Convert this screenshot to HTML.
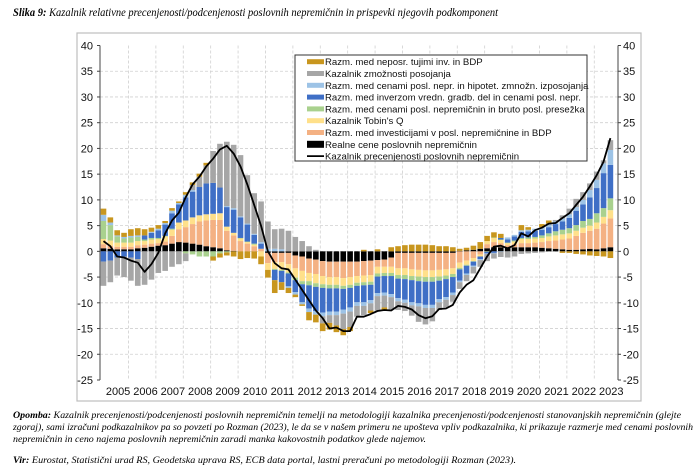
<!DOCTYPE html>
<html><head><meta charset="utf-8">
<style>
html,body{margin:0;padding:0;background:#fff;}
svg{display:block;}
text{font-family:"Liberation Sans",sans-serif;}
text.ser, .ser text{font-family:"Liberation Serif",serif;font-style:italic;}
</style></head>
<body>
<svg id="chart" width="698" height="470" viewBox="0 0 698 470" xmlns="http://www.w3.org/2000/svg">
<text class="ser" x="13" y="16" font-size="11.5" textLength="485" lengthAdjust="spacingAndGlyphs"><tspan font-weight="bold">Slika 9:</tspan> Kazalnik relativne precenjenosti/podcenjenosti poslovnih nepremičnin in prispevki njegovih podkomponent</text>
<rect x="77" y="33" width="564" height="368" fill="#fff" stroke="#bdbdbd" stroke-width="1.2"/>
<g id="grid"></g>
<g id="bars"></g>
<g id="line"></g>
<g id="axes"></g>
<g id="legend"></g>
<g font-size="9.3">
<text class="ser" x="13" y="418" textLength="668" lengthAdjust="spacingAndGlyphs"><tspan font-weight="bold">Opomba:</tspan> Kazalnik precenjenosti/podcenjenosti poslovnih nepremičnin temelji na metodologiji kazalnika precenjenosti/podcenjenosti stanovanjskih nepremičnin (glejte</text>
<text class="ser" x="13" y="430" textLength="680" lengthAdjust="spacingAndGlyphs">zgoraj), sami izračuni podkazalnikov pa so povzeti po Rozman (2023), le da se v našem primeru ne upošteva vpliv podkazalnika, ki prikazuje razmerje med cenami poslovnih</text>
<text class="ser" x="13" y="442" textLength="413" lengthAdjust="spacingAndGlyphs">nepremičnin in ceno najema poslovnih nepremičnin zaradi manka kakovostnih podatkov glede najemov.</text>
<text class="ser" x="13" y="463" textLength="503" lengthAdjust="spacingAndGlyphs"><tspan font-weight="bold">Vir:</tspan> Eurostat, Statistični urad RS, Geodetska uprava RS, ECB data portal, lastni preračuni po metodologiji Rozman (2023).</text>
</g>
</svg>
<script>
const years = [2005,2006,2007,2008,2009,2010,2011,2012,2013,2014,2015,2016,2017,2018,2019,2020,2021,2022,2023];
const yTicks = [40,35,30,25,20,15,10,5,0,-5,-10,-15,-20,-25];
const realneCene = [.6,.5,.4,.4,.4,.6,.7,.9,1.1,1.2,1.5,1.8,1.7,1.5,1.3,1.0,.8,.6,.2,.1,0,0,0,0,-.3,-.3,-.3,-.3,-.8,-1,-1.4,-1.6,-1.9,-2,-2,-2,-2,-2,-1.9,-1.8,-1.7,-1.6,-1.2,-.3,-.3,-.3,-.3,-.3,-.3,-.3,-.3,-.3,.1,.2,.3,.5,.6,.8,.8,.8,.8,.8,.8,.8,.7,.6,.5,.4,.3,.3,.4,.5,.4,.6,.8];
const investicije = [.8,.6,.5,.5,.5,.6,.6,.6,.5,.7,1.5,2.5,3,3.8,4.5,5,5.3,5.5,3.8,3,2,1.5,1,.5,-2,-1.8,-1.8,-2.2,-2.5,-2.8,-2.8,-2.8,-2.9,-3,-3,-3.2,-3,-2.8,-2.8,-2.8,-1.3,-1.4,-1.8,-3,-3,-3.2,-3.3,-3.4,-3.4,-3.3,-3.2,-3,-2.2,-1.8,-1.3,-.6,.8,1,.8,.4,.6,.8,.8,.9,1.1,1.4,1.6,1.9,2.2,2.7,3.2,3.5,4,4.8,5.6];
const tobinQ = [1,1,.8,.8,.8,.8,.7,.8,.8,1,1.2,1.3,1.3,1.3,1.2,1.2,1.2,1.3,.8,.5,.5,.3,.3,-1,-1.3,-1.3,-1.5,-1.6,-1.8,-2,-1.6,-1.8,-1.6,-1.5,-1.5,-1.5,-1.5,-1.3,-1.3,-1.3,-1.3,-1.2,-1.2,-1.3,-1.3,-1.3,-1.3,-1.3,-1.3,-1.3,-1.2,-1.1,-1,-.8,-.6,-.4,.6,.8,.6,.4,.5,.8,.8,.8,.8,.9,1,1,1,1,1,1,1.2,1.3,1.6];
const bruto = [3.5,3,1.2,.8,1,.8,.3,.3,.2,.1,.2,0,-.4,-.6,-1,-1,-1,-.4,-.2,0,.1,.1,.2,0,0,-.2,-.2,-.2,-.5,-.6,-.8,-.7,-.7,-.7,-.7,-.6,-.6,-.6,-.6,-.6,-.6,-.6,-.6,-.7,-.8,-.8,-.9,-.9,-.9,-.8,-.7,-.6,-.3,-.2,-.1,0,-.1,.1,.1,.1,.2,.2,.3,.3,.5,.6,.8,.9,1,1.1,1.3,1.3,1.8,1.7,2.3];
const inverz = [-2,-1.8,-1.2,-1,-1.2,-1.5,.8,1,1.5,2.2,3,3.5,4.5,5,5.5,6,6,5,3.8,4.5,4,3.3,1.7,1,0,-2,-2.2,-2.5,-2.3,-3.5,-4.5,-4.7,-4.8,-4.5,-4.5,-4,-3.8,-3.2,-3.3,-3,-3.2,-3.2,-3.5,-3.8,-4,-4.3,-4.3,-4.5,-4.5,-3.6,-3.5,-3,-2.2,-1.5,-.8,-.5,-.3,-.3,.3,.6,.8,1.2,1.2,1.2,1.1,1.2,1.4,1.6,2,2.8,3.2,4.2,4.9,6.8,6.5];
const hipotet = [1.2,.5,.2,.3,.3,.3,0,.2,.3,.3,.5,.3,.5,.3,0,0,0,0,.2,.3,.2,.2,.2,.3,.5,.5,.4,-.3,-.5,-.4,-.7,-.7,-.7,-.7,-.7,-.8,-.8,-.7,-.7,-.6,-.6,-.6,-.6,-.6,-.6,-.6,-.6,-.6,-.6,-.6,-.5,-.5,-.3,-.3,-.2,-.2,-.1,-.1,-.1,.4,.3,.3,.3,.4,.5,.5,.5,.6,.7,.7,.9,1.4,1.6,1.9,2.9];
const posojanje = [-4.7,-4.2,-3.5,-4,-4.5,-5.2,-6.5,-5.5,-4.2,-3.8,-3,-2.5,-1.5,1,2,3.5,6.2,8.5,12.5,12.3,11.9,9.4,7.9,7.9,5.3,3.8,4,4,2.8,2,1,.3,-1.4,-1.5,-2,-3,-3,-2.1,-1.8,-1.4,-2.8,-2.3,-2.4,-1.7,-1.6,-2,-3,-3.2,-2.6,-1.5,-1.5,-1.3,-1.3,-1.2,-1.3,-1.3,-1.4,-1,-1,-1.2,-1,-.5,-.4,-.3,-.2,.2,.3,.6,1.1,1.6,1.5,1.3,1.6,.6,1.9];
const tujeInv = [1.2,1,1,.8,1.3,1.4,1.2,.8,.7,.4,.5,.3,.5,.5,.6,.5,-.8,-.8,-.6,-1,-1.5,-1.3,-1.4,-1.5,-1.5,-2.5,-1.5,-1,-.5,-.3,-1.6,-1.5,-1.5,-1.3,-1.3,-1.2,-.8,0,.3,-.5,.4,-.5,.8,1,1.2,1.3,1.3,1.3,1.2,1,1,.8,.4,.5,.8,1.3,1,1,.8,0,0,1,.5,0,.6,.6,0,-.3,-.3,-.5,-.6,-.8,-.9,-1,-1.3];
const indexLine = [2,1,-1,-1.2,-1.8,-2.2,-4,-2.5,-.3,3.5,6,7.5,10.5,13,14.5,16.5,18,19.8,20.5,19,16.5,13,9,5,0,-2.3,-3.3,-3.5,-5.5,-7.5,-9.5,-11.5,-13,-15,-14.8,-15.5,-15.5,-12.7,-12.7,-12.2,-11.6,-11.4,-11.5,-10.6,-10.8,-11.3,-12.4,-13,-12.6,-11.2,-11.1,-10.4,-8,-6.5,-5.6,-3.3,-1,.9,1.1,.6,1.2,3.5,2.9,4.1,4.6,5.4,5.5,6.5,7.4,9,10.6,12.6,14.8,17.4,22];

const NS="http://www.w3.org/2000/svg";
const series = [realneCene,investicije,tobinQ,bruto,inverz,hipotet,posojanje,tujeInv];
const colors = ["#000000","#f4b183","#ffe08a","#a9d18e","#3f6fc6","#9dc3e6","#a6a6a6","#c8961e"];
const X0=100, X1=618, Y40=45.5, YM25=380;
function yScale(v){return Y40+(40-v)*(YM25-Y40)/65;}
const step=27.4/4;
function xScale(i){return 103.5+i*step;}
function mk(tag,attrs,parent){const e=document.createElementNS(NS,tag);for(const k in attrs)e.setAttribute(k,attrs[k]);parent.appendChild(e);return e;}
const grid=document.getElementById('grid'), bars=document.getElementById('bars'), lineG=document.getElementById('line'), axes=document.getElementById('axes'), leg=document.getElementById('legend');

yTicks.forEach(t=>{
  if(t!==40&&t!==-25){const g=mk('line',{x1:X0,x2:X1,y1:yScale(t),y2:yScale(t),stroke:'#d0d0d0','stroke-width':0.8,'stroke-dasharray':'3,2'},grid);
  
  }
  const l=mk('text',{x:93,y:yScale(t)+4,'font-size':11,'text-anchor':'end',fill:'#111'},axes);l.textContent=t;
  
  
  const r=mk('text',{x:623,y:yScale(t)+4,'font-size':11,'text-anchor':'start',fill:'#111'},axes);r.textContent=t;
  
  
  mk('line',{x1:X0-3,x2:X0,y1:yScale(t),y2:yScale(t),stroke:'#444','stroke-width':1},axes);
  mk('line',{x1:X1,x2:X1+3,y1:yScale(t),y2:yScale(t),stroke:'#444','stroke-width':1},axes);
});
years.forEach((yr,k)=>{
  const xb=xScale(k*4)-step/2;
  if(k>0){const g=mk('line',{x1:xb+1,x2:xb+1,y1:Y40,y2:YM25,stroke:'#d0d0d0','stroke-width':0.8,'stroke-dasharray':'3,2'},grid);
  
  }
  const t=mk('text',{x:xb+18,y:395,'font-size':11,'text-anchor':'middle',fill:'#111'},axes);t.textContent=yr;
  
  
});
const al=mk('line',{x1:X0,x2:X0,y1:Y40,y2:YM25,stroke:'#444','stroke-width':1},axes);


const ar=mk('line',{x1:X1,x2:X1,y1:Y40,y2:YM25,stroke:'#444','stroke-width':1},axes);



const n=indexLine.length, bw=5.6;
for(let i=0;i<n;i++){
  let pos=0,neg=0;
  series.forEach((s,si)=>{
    const v=s[i]; if(!v) return;
    let a,b;
    if(v>0){a=pos;b=pos+v;pos=b;}else{a=neg;b=neg+v;neg=b;}
    const y1=yScale(Math.max(a,b)), y2=yScale(Math.min(a,b));
    const r=mk('rect',{x:xScale(i)-bw/2,y:y1,width:bw,height:Math.max(0.3,y2-y1),fill:colors[si]},bars);
    
    
  });
}
let d='';
indexLine.forEach((v,i)=>{d+=(i?'L':'M')+xScale(i).toFixed(1)+','+yScale(v).toFixed(1);});
const p=mk('path',{d:d,fill:'none',stroke:'#000','stroke-width':1.8,'stroke-linejoin':'round'},lineG);



const lb=mk('rect',{x:295,y:55,width:292,height:106,fill:'#fff',stroke:'#333','stroke-width':1},leg);


const legOrder=[7,6,5,4,3,2,1,0];
const legLabels=["Razm. med neposr. tujimi inv. in BDP","Kazalnik zmožnosti posojanja","Razm. med cenami posl. nepr. in hipotet. zmnožn. izposojanja","Razm. med inverzom vredn. gradb. del in cenami posl. nepr.","Razm. med cenami posl. nepremičnin in bruto posl. presežka","Kazalnik Tobin's Q","Razm. med investicijami v posl. nepremičnine in BDP","Realne cene poslovnih nepremičnin","Kazalnik precenjenosti poslovnih nepremičnin"];
legLabels.forEach((lab,k)=>{
  const y=61.7+k*11.8;
  if(k<8){const sw=mk('rect',{x:307,y:y-(k===7?3.5:2.5),width:17,height:(k===7?7:5),fill:colors[legOrder[k]]},leg);
    
    }
  else{const sl=mk('line',{x1:307,x2:324,y1:y,y2:y,stroke:'#000','stroke-width':1.8},leg);
    
    }
  const t=mk('text',{x:325,y:y+3.5,'font-size':9.6,fill:'#111'},leg);t.textContent=lab;
  
  
});
</script>
</body></html>
